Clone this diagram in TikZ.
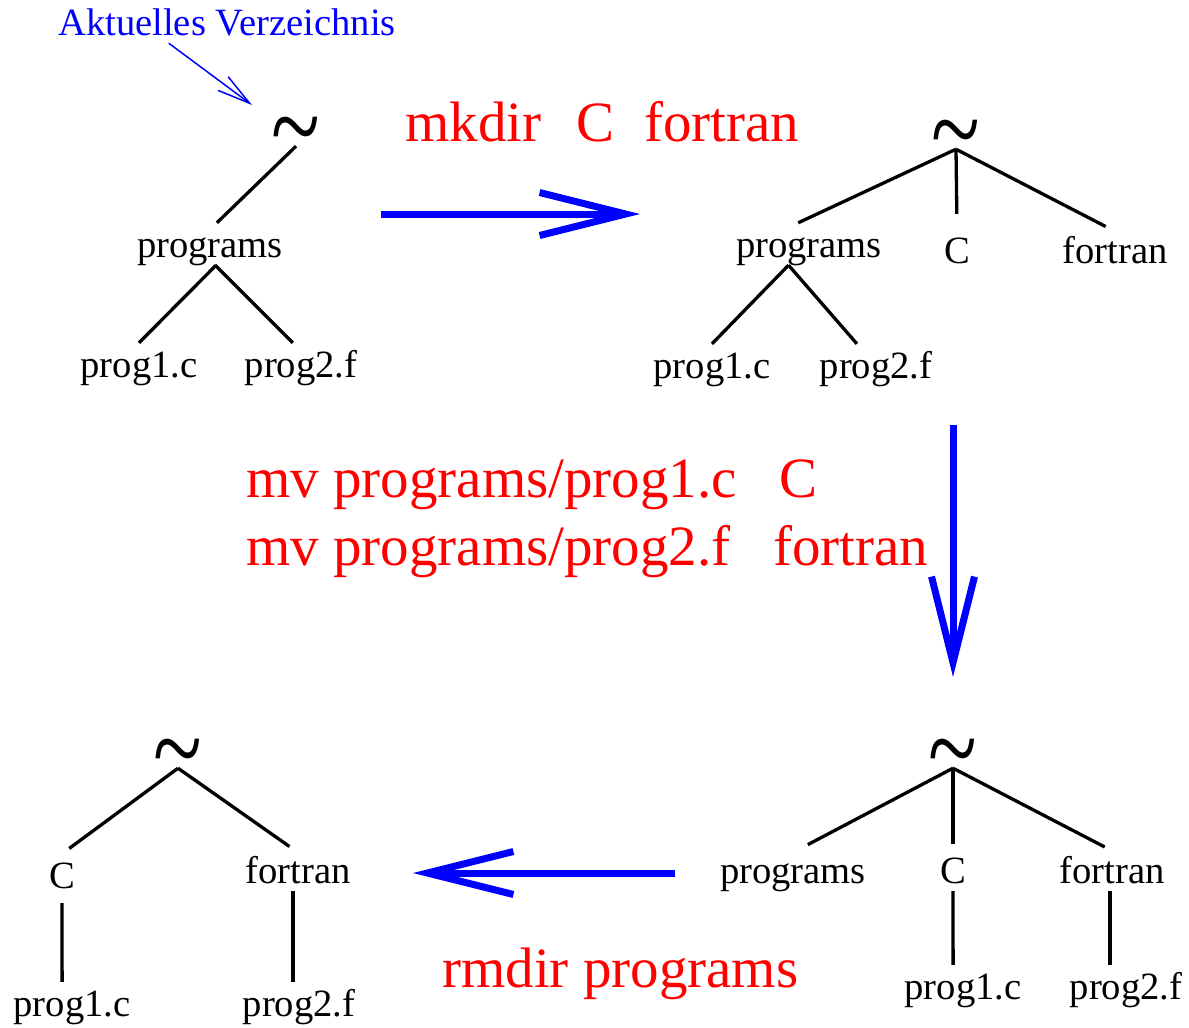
\documentclass[tikz,border=0pt]{standalone}
\usepackage{fontspec}
\setmainfont{Liberation Serif}
\usepackage{graphicx}
\usetikzlibrary{arrows.meta}

\newcommand{\homesign}{\scalebox{1}[1.3]{\raisebox{-0.35em}{\textasciitilde}}}

\begin{document}
\begin{tikzpicture}[
    x=1pt, y=-1pt,
    lbl/.style={font=\fontsize{38.6}{40}\selectfont, anchor=base,
                text height=26pt, text depth=0pt, inner xsep=0pt, inner ysep=8pt},
    home/.style={font=\fontsize{90}{90}\selectfont, text height=21pt, text depth=21pt,
                 inner sep=0pt},
    cmd/.style={font=\fontsize{57}{60}\selectfont, text=red, anchor=base west, inner sep=0pt},
    edge/.style={line width=3.3pt},
    big/.style={draw=blue, line width=7pt,
                -{Straight Barb[length=86pt, width=43pt]}},
    hint/.style={draw=blue, line width=1.5pt,
                 -{Straight Barb[length=33pt, width=17pt]}},
  ]
  \useasboundingbox (0,0) rectangle (1189,1028);

  % ---- tree 1: start
  \node[lbl, text=blue] (akt) at (227,35) {Aktuelles Verzeichnis};
  \coordinate (cur) at (252,105);
  \node[home] (t1) at (296,125) {\homesign};
  \node[lbl] (pr1) at (210,257) {programs};
  \node[lbl] (a1) at (139,377) {prog1.c};
  \node[lbl] (b1) at (301,377) {prog2.f};

  \draw[hint] (akt.-160) -- (cur);
  \draw[edge] (t1.south) -- (pr1.72);
  \draw[edge] (pr1.-74) -- (a1.north);
  \draw[edge] (pr1.-76) -- (b1.111);

  % ---- tree 2: after mkdir
  \node[home] (t2) at (956,128) {\homesign};
  \node[lbl] (pr2) at (809,257) {programs};
  \node[lbl] (c2) at (957,263) {C};
  \node[lbl] (f2) at (1115,263) {fortran};
  \node[lbl] (a2) at (712,378) {prog1.c};
  \node[lbl] (b2) at (876,378) {prog2.f};

  \draw[edge] (t2.south) -- (pr2.117);
  \draw[edge, shorten >=15pt] (t2.south) -- (c2.north);
  \draw[edge, shorten >=5pt] (t2.south) -- (f2.103);
  \draw[edge] (pr2.-134) -- (a2.north);
  \draw[edge] (pr2.-134) -- (b2.132);

  % ---- tree 3: after mv
  \node[home] (t3) at (953,747) {\homesign};
  \node[lbl] (pr3) at (793,883) {programs};
  \node[lbl] (c3) at (953,883) {C};
  \node[lbl] (f3) at (1112,883) {fortran};
  \node[lbl] (a3) at (963,999) {prog1.c};
  \node[lbl] (b3) at (1126,999) {prog2.f};

  \draw[edge, shorten >=9pt] (t3.south) -- (pr3.72);
  \draw[edge, shorten >=5pt] (t3.south) -- (c3.north);
  \draw[edge, shorten >=4pt] (t3.south) -- (f3.100);
  \draw[edge] (c3.south) -- (a3.115);
  \draw[edge] (b3.127 |- f3.south) -- (b3.127);

  % ---- tree 4: after rmdir
  \node[home] (t4) at (178,747) {\homesign};
  \node[lbl] (c4) at (62,888) {C};
  \node[lbl] (f4) at (298,883) {fortran};
  \node[lbl] (a4) at (72,1016) {prog1.c};
  \node[lbl] (b4) at (299,1016) {prog2.f};

  \draw[edge, shorten >=9pt] (t4.south) -- (c4.north);
  \draw[edge, shorten >=4pt] (t4.south) -- (f4.104);
  \draw[edge, shorten <=7pt] (c4.south) -- (a4.115);
  \draw[edge] (b4.106 |- f4.south) -- (b4.106);

  % ---- commands and arrows
  \node[cmd] (mk) at (405,141) {mkdir\hspace{0.62em}C\hspace{0.52em}fortran};
  \node[cmd] (mv1) at (246,497) {mv programs/prog1.c\hspace{0.75em}C};
  \node[cmd] (mv2) at (246,565) {mv programs/prog2.f\hspace{0.75em}fortran};
  \node[cmd] (rm) at (442,987) {rmdir programs};

  \coordinate (s1) at (381,214);
  \coordinate (e1) at (640,214);
  \coordinate (s2) at (953,425);
  \coordinate (e2) at (953,677);
  \coordinate (s3) at (675,873);
  \coordinate (e3) at (413,873);

  \draw[big] (s1) -- (e1);
  \draw[big] (s2) -- (e2);
  \draw[big] (s3) -- (e3);
\end{tikzpicture}
\end{document}
